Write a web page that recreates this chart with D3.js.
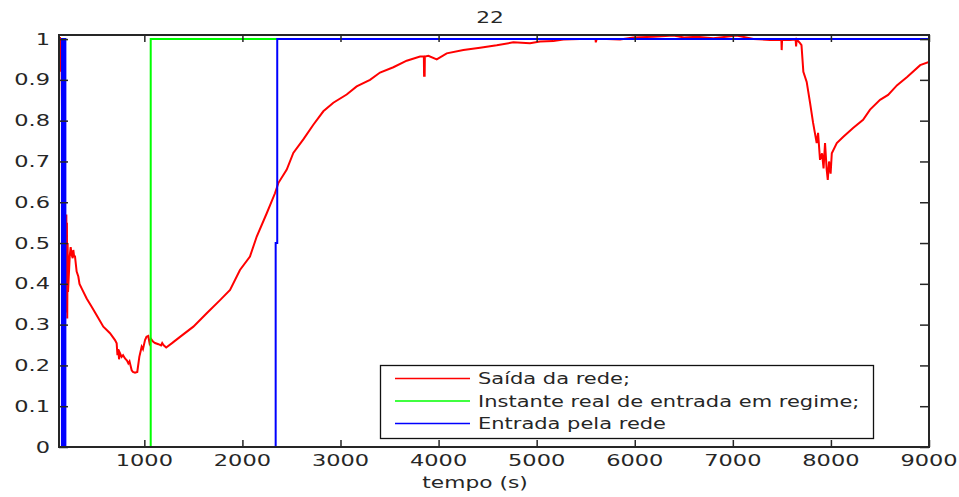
<!DOCTYPE html>
<html>
<head>
<meta charset="utf-8">
<script src="https://cdn.jsdelivr.net/npm/d3@7"></script>
<style>
  html, body { margin: 0; padding: 0; background: #fff; }
  svg { display: block; }
  text { font-family: "DejaVu Sans", "Liberation Sans", sans-serif; fill: #262626; }
</style>
</head>
<body>
<script>
// Network output vs. time (s)
const redT = [130, 135, 140, 145, 150, 156, 162, 175, 190, 200, 205, 208, 211, 214, 218, 222, 230, 240, 249,
  260, 270, 276, 283, 293, 310, 327, 339, 361, 412, 463, 514, 582, 650, 701, 718, 726, 735, 742, 752, 769, 783,
  803, 823, 837, 849, 871, 884, 905, 928, 949, 973, 986, 1007, 1022, 1040, 1053, 1068, 1091, 1109, 1144, 1170,
  1182, 1195, 1223, 1279, 1364, 1500, 1636, 1772, 1874, 1975, 2077, 2146, 2248, 2332, 2366, 2452, 2519, 2621,
  2723, 2825, 2927, 3063, 3165, 3301, 3403, 3539, 3675, 3811, 3850, 3852, 3858, 3860, 3896, 3981, 4083, 4253,
  4423, 4593, 4762, 4932, 5034, 5170, 5272, 5442, 5600, 5603, 5612, 5714, 5850, 5986, 6190, 6394, 6503, 6632,
  6802, 7040, 7210, 7379, 7495, 7498, 7502, 7583, 7640, 7645, 7651, 7685, 7700, 7719, 7753, 7787, 7818, 7855,
  7869, 7889, 7910, 7925, 7940, 7957, 7968, 7981, 7997, 8009, 8060, 8124, 8226, 8328, 8399, 8501, 8583, 8675,
  8777, 8910, 9000];
const redV = [1.0, 0.93, 1.005, 0.92, 1.0, 0.95, 0.8, 0.6, 0.5, 0.45, 0.57, 0.33, 0.55, 0.315, 0.5, 0.38, 0.42,
  0.47, 0.49, 0.47, 0.463, 0.483, 0.47, 0.467, 0.43, 0.418, 0.40, 0.389, 0.364, 0.344, 0.323, 0.295, 0.279,
  0.262, 0.254, 0.225, 0.24, 0.215, 0.23, 0.221, 0.225, 0.217, 0.212, 0.205, 0.21, 0.188, 0.184, 0.182, 0.184,
  0.221, 0.246, 0.24, 0.262, 0.27, 0.272, 0.255, 0.265, 0.258, 0.255, 0.252, 0.249, 0.255, 0.25, 0.244, 0.254,
  0.27, 0.295, 0.328, 0.36, 0.385, 0.434, 0.467, 0.516, 0.573, 0.622, 0.647, 0.68, 0.721, 0.754, 0.79, 0.823,
  0.844, 0.864, 0.884, 0.9, 0.918, 0.931, 0.947, 0.957, 0.957, 0.91, 0.91, 0.957, 0.959, 0.95, 0.965, 0.973,
  0.979, 0.985, 0.992, 0.99, 0.994, 0.995, 0.999, 1.0, 1.0, 0.992, 1.0, 1.0, 0.999, 1.004, 1.006, 1.009, 1.004,
  1.006, 1.002, 1.009, 1.0, 0.998, 0.998, 0.973, 0.998, 0.998, 0.999, 0.982, 0.999, 0.99, 0.985, 0.92, 0.895,
  0.844, 0.795, 0.745, 0.77, 0.704, 0.72, 0.683, 0.745, 0.68, 0.655, 0.7, 0.67, 0.72, 0.745, 0.76, 0.782,
  0.802, 0.827, 0.851, 0.863, 0.887, 0.907, 0.936, 0.944];

// Actual steady-state entry instant (step)
const greenT = [130, 1065, 1065, 9000];
const greenV = [0, 0, 1, 1];

// Network-detected entry: fast toggling at start, then the entry step
const blueT = [130, 160, 160, 167, 167, 174, 174, 181, 181, 188, 188, 195, 195, 2339, 2339, 2355, 2355, 9000];
const blueV = [0, 0, 1, 1, 0, 0, 1, 1, 0, 0, 1, 1, 0, 0, 0.5, 0.5, 1, 1];

const xTicks = [1000, 2000, 3000, 4000, 5000, 6000, 7000, 8000, 9000];
const yTicks = [0, 0.1, 0.2, 0.3, 0.4, 0.5, 0.6, 0.7, 0.8, 0.9, 1];

const titleText = "22";
const xLabel = "tempo (s)";
const legendLabels = ["Saída da rede;", "Instante real de entrada em regime;", "Entrada pela rede"];
const seriesColors = ["#ff0000", "#00ff00", "#0000ff"];

const W = 959, H = 497;
const m = { left: 59, right: 929, top: 35, bottom: 447 };

const svg = d3.select("body").append("svg").attr("width", W).attr("height", H);
svg.append("rect").attr("width", W).attr("height", H).attr("fill", "#fff");

const x = d3.scaleLinear().domain([130, 9000]).range([m.left, m.right]);
const y = d3.scaleLinear().domain([0, 1.01]).range([m.bottom, m.top]);

svg.append("clipPath").attr("id", "plotclip").append("rect")
  .attr("x", m.left).attr("y", m.top - 2).attr("width", m.right - m.left).attr("height", m.bottom - m.top + 4);

const plot = svg.append("g").attr("clip-path", "url(#plotclip)");
const line = d3.line().x(d => x(d[0])).y(d => y(d[1]));

const series = [
  d3.zip(redT, redV),
  d3.zip(greenT, greenV),
  d3.zip(blueT, blueV)
];
series.forEach((s, i) => {
  plot.append("path").datum(s).attr("d", line)
    .attr("fill", "none").attr("stroke", seriesColors[i])
    .attr("stroke-width", 2).attr("stroke-linejoin", "miter");
});

// Horizontally stretched text helper
function label(g, tx, ty, str, anchor, size, stretch) {
  return g.append("text")
    .attr("transform", `translate(${tx},${ty}) scale(${stretch},1)`)
    .attr("text-anchor", anchor)
    .style("font-size", size + "px")
    .text(str);
}

// Axes box with inward ticks on all four sides
const axisCol = "#262626";
const bottomAxis = d3.axisBottom(x).tickValues(xTicks).tickSizeInner(-7).tickSizeOuter(0).tickFormat("");
const topAxis = d3.axisTop(x).tickValues(xTicks).tickSizeInner(-7).tickSizeOuter(0).tickFormat("");
const leftAxis = d3.axisLeft(y).tickValues(yTicks).tickSizeInner(-9).tickSizeOuter(0).tickFormat("");
const rightAxis = d3.axisRight(y).tickValues(yTicks).tickSizeInner(-9).tickSizeOuter(0).tickFormat("");

[
  svg.append("g").attr("transform", `translate(0,${m.bottom})`).call(bottomAxis),
  svg.append("g").attr("transform", `translate(0,${m.top})`).call(topAxis),
  svg.append("g").attr("transform", `translate(${m.left},0)`).call(leftAxis),
  svg.append("g").attr("transform", `translate(${m.right},0)`).call(rightAxis)
].forEach(g => {
  g.select(".domain").remove();
  g.selectAll(".tick line").attr("stroke", axisCol).attr("stroke-width", 1.5);
});
svg.append("rect").attr("x", m.left).attr("y", m.top)
  .attr("width", m.right - m.left).attr("height", m.bottom - m.top)
  .attr("fill", "none").attr("stroke", axisCol).attr("stroke-width", 2);

// Tick labels
const tl = svg.append("g");
xTicks.forEach(v => label(tl, x(v), m.bottom + 19, String(v), "middle", 15, 1.5));
yTicks.forEach(v => label(tl, m.left - 9, y(v) + 5.5, String(v), "end", 15, 1.5));

// Title and axis label
label(svg, (m.left + m.right) / 2 - 4, 23, titleText, "middle", 15, 1.45);
label(svg, (m.left + m.right) / 2 - 19, 488, xLabel, "middle", 15, 1.45);

// Legend
const lg = svg.append("g");
lg.append("rect").attr("x", 380.5).attr("y", 365.5).attr("width", 493).attr("height", 73)
  .attr("fill", "#fff").attr("stroke", "#111").attr("stroke-width", 1.3);
legendLabels.forEach((t, i) => {
  const ly = 378.5 + i * 22.5;
  lg.append("line").attr("x1", 395).attr("x2", 470).attr("y1", ly).attr("y2", ly)
    .attr("stroke", seriesColors[i]).attr("stroke-width", 1.3);
  label(lg, 478, ly + 5.5, t, "start", 15, 1.4);
});
</script>
</body>
</html>
